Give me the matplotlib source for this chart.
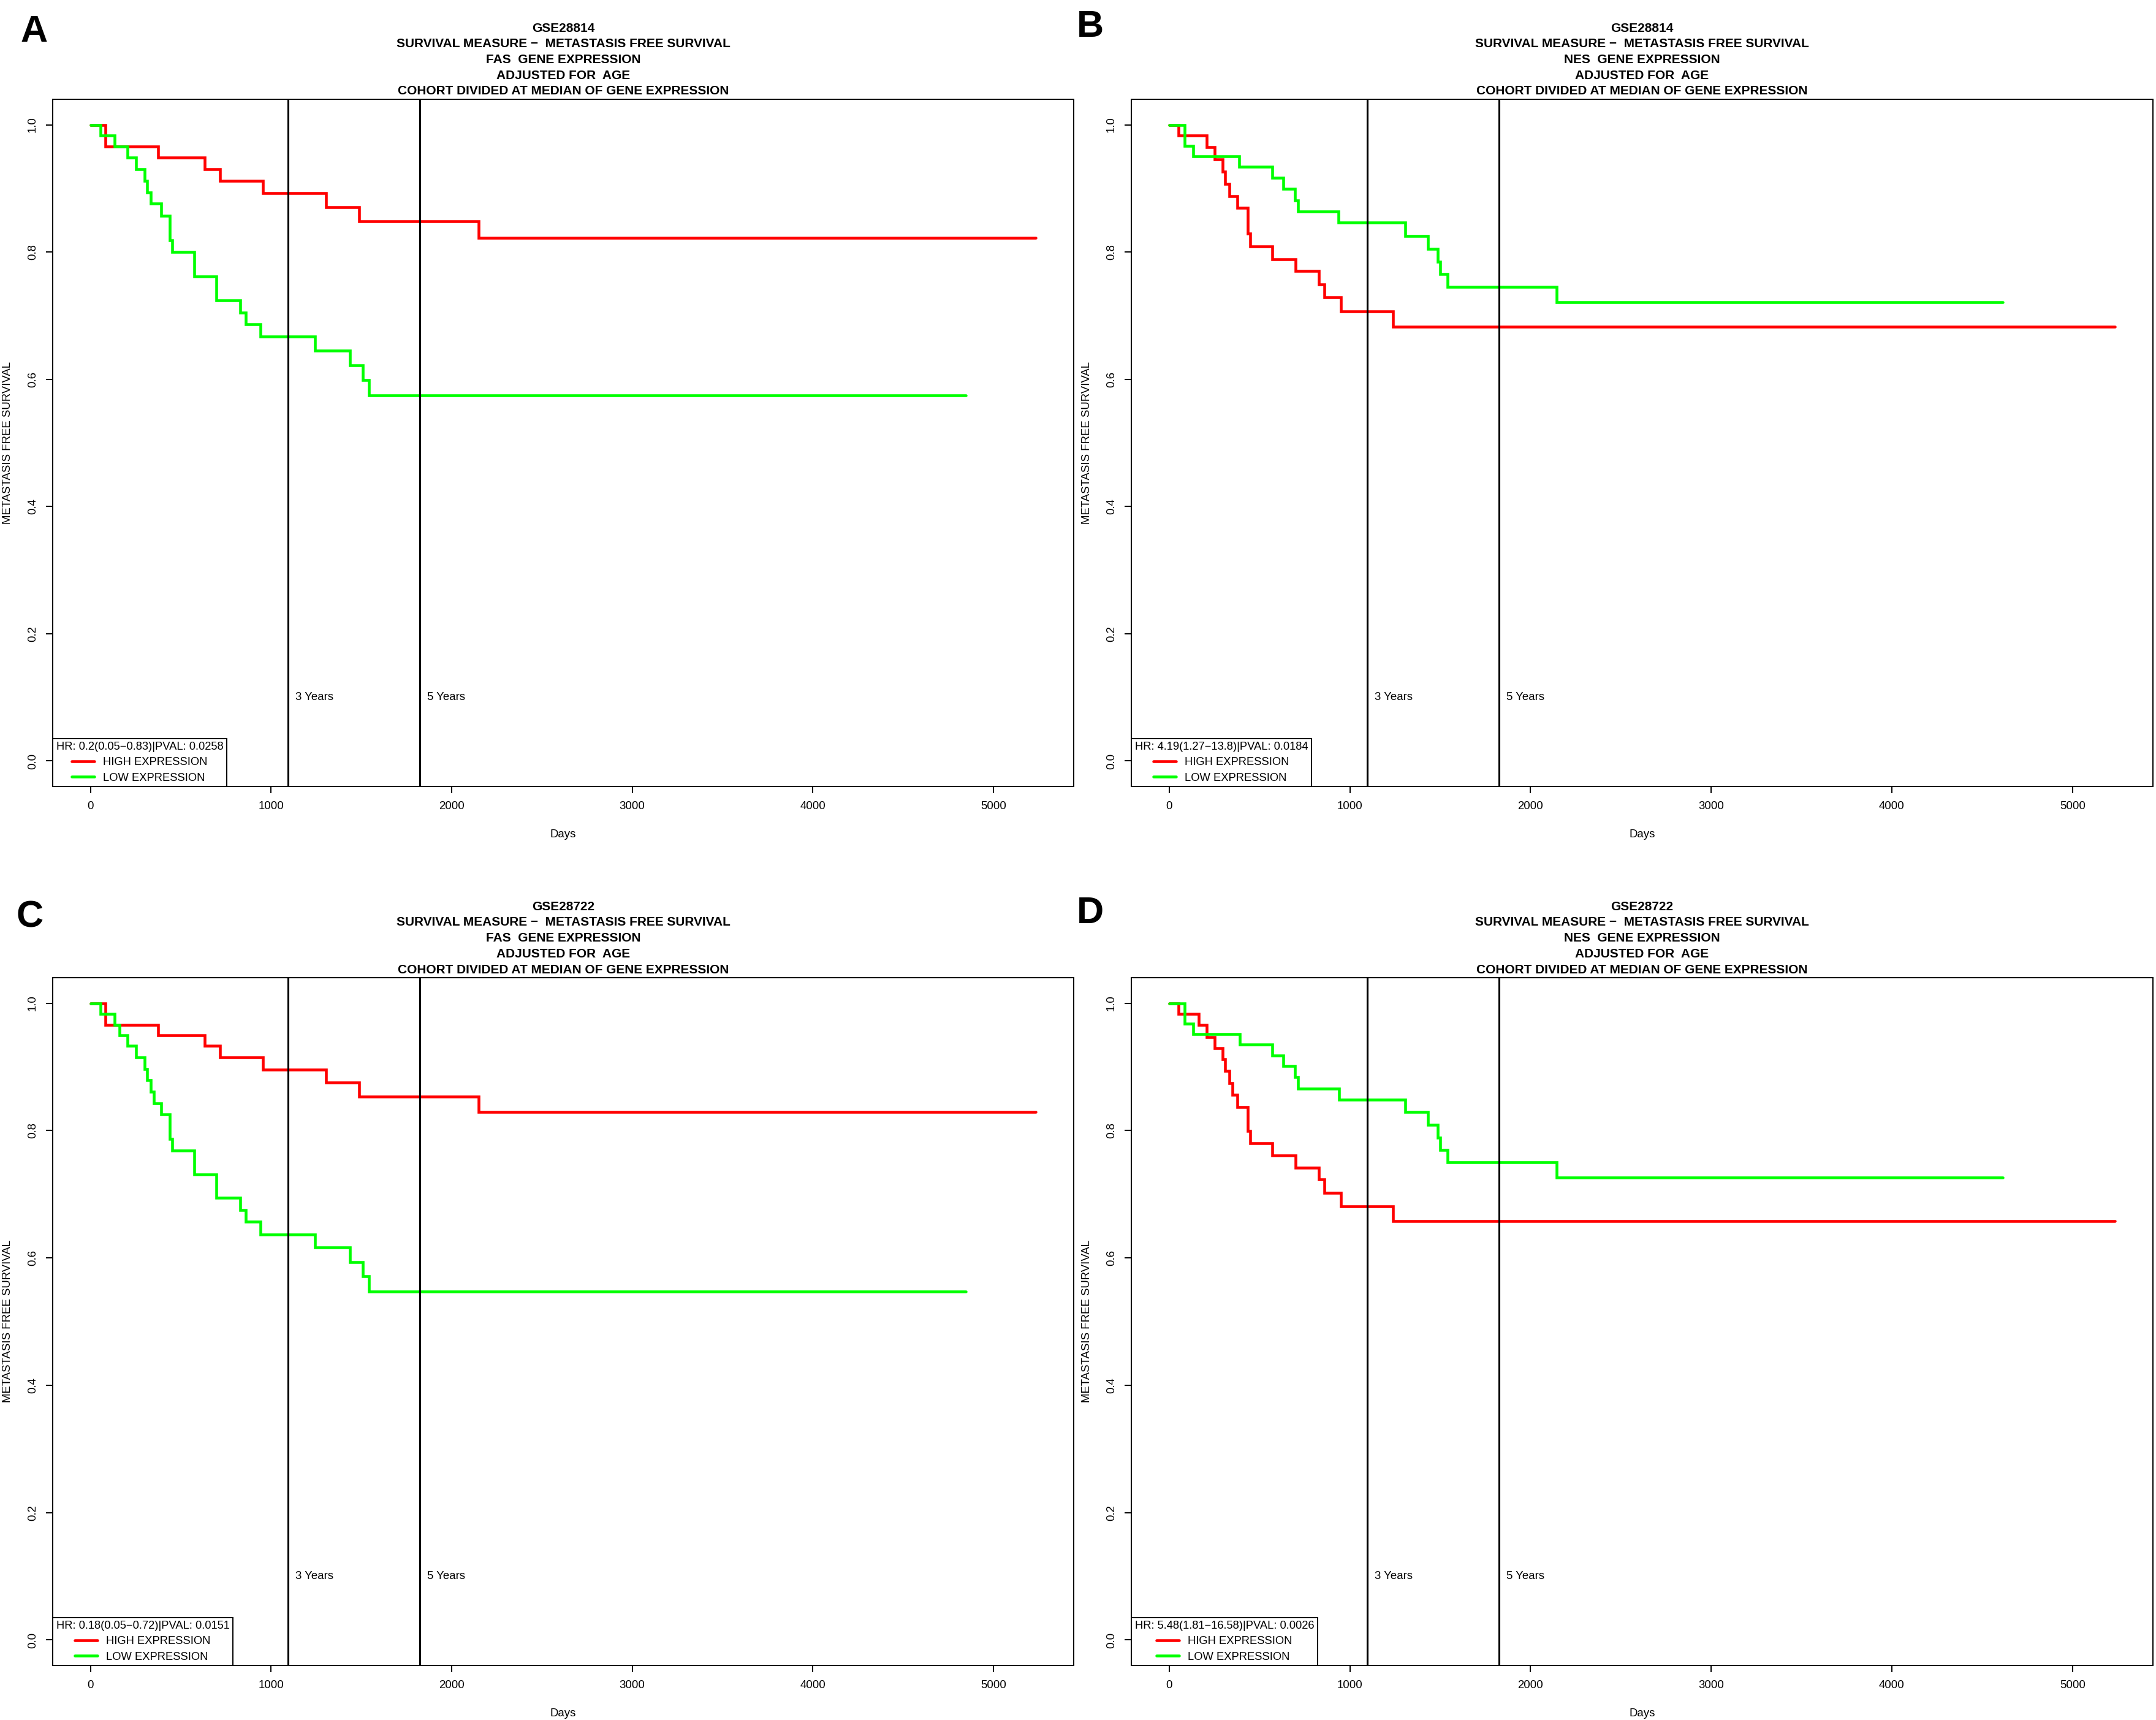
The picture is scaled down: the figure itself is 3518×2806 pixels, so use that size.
import matplotlib
matplotlib.use('Agg')
import matplotlib.pyplot as plt

plt.rcParams['font.family'] = ['Liberation Sans', 'DejaVu Sans']

# ---------------- data ----------------
panel_letters = ['A', 'B', 'C', 'D']
datasets = ['GSE28814', 'GSE28814', 'GSE28722', 'GSE28722']
genes = ['FAS', 'NES', 'FAS', 'NES']
hr_texts = ['HR: 0.2(0.05\u22120.83)|PVAL: 0.0258',
            'HR: 4.19(1.27\u221213.8)|PVAL: 0.0184',
            'HR: 0.18(0.05\u22120.72)|PVAL: 0.0151',
            'HR: 5.48(1.81\u221216.58)|PVAL: 0.0026']
series_labels = ['HIGH EXPRESSION', 'LOW EXPRESSION']

# Panel A
A_high_t = [84, 376, 631, 716, 956, 1306, 1489, 2148]
A_high_s = [0.966, 0.948, 0.930, 0.912, 0.893, 0.870, 0.848, 0.822]
A_high_end = 5236
A_low_t = [56, 134, 206, 253, 300, 312, 335, 391, 440, 452, 574, 697, 829, 859, 942, 1242, 1437, 1507, 1542]
A_low_s = [0.983, 0.966, 0.948, 0.930, 0.912, 0.894, 0.876, 0.857, 0.818, 0.800, 0.762, 0.724, 0.705, 0.686,
           0.667, 0.645, 0.622, 0.599, 0.575]
A_low_end = 4847

# Panel B
B_high_t = [53, 208, 251, 296, 308, 333, 378, 436, 450, 572, 699, 827, 859, 952, 1240]
B_high_s = [0.983, 0.965, 0.946, 0.926, 0.907, 0.888, 0.869, 0.829, 0.809, 0.789, 0.770, 0.749, 0.729, 0.707, 0.683]
B_high_end = 5236
B_low_t = [86, 134, 389, 572, 631, 695, 713, 938, 1306, 1433, 1488, 1501, 1540, 2146]
B_low_s = [0.967, 0.950, 0.934, 0.917, 0.899, 0.881, 0.864, 0.846, 0.825, 0.805, 0.785, 0.765, 0.745, 0.721]
B_low_end = 4615

# Panel C
C_high_t = [84, 376, 631, 716, 956, 1306, 1489, 2148]
C_high_s = [0.966, 0.950, 0.933, 0.915, 0.896, 0.875, 0.853, 0.829]
C_high_end = 5236
C_low_t = [56, 134, 162, 206, 253, 300, 312, 335, 352, 391, 440, 452, 574, 697, 829, 859, 942, 1242, 1437, 1507, 1542]
C_low_s = [0.983, 0.966, 0.950, 0.933, 0.915, 0.897, 0.879, 0.861, 0.843, 0.825, 0.787, 0.769, 0.731, 0.694,
           0.675, 0.657, 0.637, 0.616, 0.593, 0.571, 0.547]
C_low_end = 4847

# Panel D
D_high_t = [53, 164, 208, 251, 296, 308, 333, 349, 378, 436, 450, 572, 699, 827, 859, 952, 1240]
D_high_s = [0.983, 0.966, 0.947, 0.929, 0.912, 0.894, 0.874, 0.856, 0.837, 0.799, 0.780, 0.761, 0.742, 0.723,
            0.702, 0.681, 0.658]
D_high_end = 5236
D_low_t = [86, 134, 391, 572, 631, 695, 713, 940, 1306, 1433, 1488, 1501, 1540, 2146]
D_low_s = [0.968, 0.951, 0.935, 0.918, 0.901, 0.884, 0.866, 0.848, 0.829, 0.809, 0.789, 0.770, 0.750, 0.726]
D_low_end = 4615

year_marks = [1095, 1825]
year_labels = ['3 Years', '5 Years']
x_ticks = [0, 1000, 2000, 3000, 4000, 5000]
y_ticks = [0.0, 0.2, 0.4, 0.6, 0.8, 1.0]
y_ticklabels = ['0.0', '0.2', '0.4', '0.6', '0.8', '1.0']

curves = [
    ((A_high_t, A_high_s, A_high_end), (A_low_t, A_low_s, A_low_end)),
    ((B_high_t, B_high_s, B_high_end), (B_low_t, B_low_s, B_low_end)),
    ((C_high_t, C_high_s, C_high_end), (C_low_t, C_low_s, C_low_end)),
    ((D_high_t, D_high_s, D_high_end), (D_low_t, D_low_s, D_low_end)),
]

# ---------------- layout ----------------
W, H = 3518, 2806
DPI = 100
fig = plt.figure(figsize=(W / DPI, H / DPI), dpi=DPI)

axes_px = [(86, 162, 1752, 1283), (1846, 162, 3513, 1283),
           (86, 1595, 1752, 2717), (1846, 1595, 3513, 2717)]
letter_px = [(56, 52), (1779, 45), (49, 1497), (1779, 1490)]

FS = 13.4
LFS = 13.2
TFS = 15.0
PX2PT = 72.0 / DPI
colors = ['#FF0000', '#00FF00']


def step_xy(t, s, end):
    xs = [0] + list(t) + [end]
    ys = [1.0] + list(s) + [s[-1]]
    return xs, ys


for i in range(4):
    l, t, r, b = axes_px[i]
    ax = fig.add_axes([l / W, 1 - b / H, (r - l) / W, (b - t) / H])
    xmax = 0
    for (tt, ss, end), col, lab in zip(curves[i], colors, series_labels):
        xs, ys = step_xy(tt, ss, end)
        xmax = max(xmax, end)
        ax.step(xs, ys, where='post', color=col, lw=3.3, solid_capstyle='round',
                solid_joinstyle='miter', label=lab, zorder=2)
    for xm, yl in zip(year_marks, year_labels):
        ax.axvline(xm, color='black', lw=2.2, zorder=3)
        ax.annotate(yl, xy=(xm, 0.1), xycoords='data', xytext=(12 * PX2PT, 0),
                    textcoords='offset points', ha='left', va='center', fontsize=FS)
    ax.set_xlim(-0.04 * xmax, 1.04 * xmax)
    ax.set_ylim(-0.04, 1.04)
    ax.set_xticks(x_ticks)
    ax.set_xticklabels([str(v) for v in x_ticks])
    ax.set_yticks(y_ticks)
    ax.set_yticklabels(y_ticklabels)
    ax.tick_params(direction='out', length=11 * PX2PT, width=1.4, labelsize=FS, pad=9.5)
    ax.tick_params(axis='y', labelrotation=90)
    for lab in ax.get_yticklabels():
        lab.set_va('center')
    for sp in ax.spines.values():
        sp.set_linewidth(1.4)

    ax.set_xlabel('Days', fontsize=FS)
    ax.xaxis.set_label_coords(0.5, -78 / (b - t))
    ax.xaxis.label.set_va('center')
    ax.set_ylabel('METASTASIS FREE SURVIVAL', fontsize=FS)
    ax.yaxis.set_label_coords(-73 / (r - l), 0.5)
    ax.yaxis.label.set_va('center')

    title_lines = [datasets[i],
                   'SURVIVAL MEASURE \u2212  METASTASIS FREE SURVIVAL',
                   genes[i] + '  GENE EXPRESSION',
                   'ADJUSTED FOR  AGE',
                   'COHORT DIVIDED AT MEDIAN OF GENE EXPRESSION']
    for k, line in enumerate(title_lines):
        off = (13 + (4 - k) * 25.7) * PX2PT
        ax.annotate(line, xy=(0.5, 1.0), xycoords='axes fraction', xytext=(0, off),
                    textcoords='offset points', ha='center', va='center',
                    fontsize=TFS, fontweight='bold')

    leg = ax.legend(loc='lower left', bbox_to_anchor=(0, 0), borderaxespad=0,
                    title=hr_texts[i], title_fontsize=LFS, fontsize=LFS,
                    frameon=True, fancybox=False, edgecolor='black', framealpha=1,
                    borderpad=0.3, labelspacing=0.45, handlelength=2.0,
                    handletextpad=0.8)
    leg.get_frame().set_linewidth(1.4)
    leg.set_zorder(5)

    lx, ly = letter_px[i]
    fig.text(lx / W, 1 - ly / H, panel_letters[i], fontsize=44, fontweight='bold',
             ha='center', va='center')

fig.savefig('out.png', dpi=DPI)
